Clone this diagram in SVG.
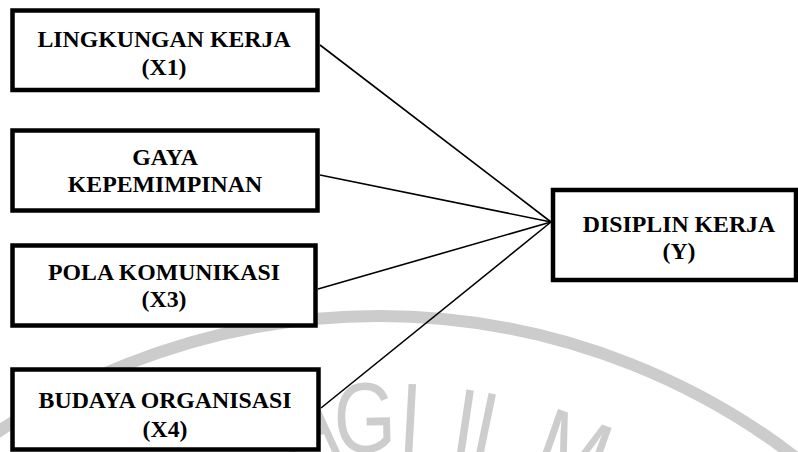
<svg xmlns="http://www.w3.org/2000/svg" width="798" height="452" viewBox="0 0 798 452">
  <style>
    .box { fill: #ffffff; stroke: #000000; stroke-width: 4.5; }
    .lbl { font-family: "Liberation Serif", "Times New Roman", serif; font-weight: bold; font-size: 23.8px; fill: #000000; text-anchor: middle; }
    .conn { stroke: #000000; stroke-width: 1.6; fill: none; }
    .wm { font-family: "Liberation Sans", Arial, sans-serif; font-size: 100px; fill: #cdcdcd; text-anchor: middle; }
  </style>
  <rect x="0" y="0" width="798" height="452" fill="#ffffff"/>
  <g id="watermark">
    <circle cx="379" cy="1000" r="684" fill="none" stroke="#cccccc" stroke-width="12"/>
    <text class="wm" transform="rotate(-6.8 379 1000) translate(379 452) scale(0.8 1)">A</text>
    <text class="wm" transform="rotate(-1.4 379 1000) translate(379 452) scale(0.8 1)">G</text>
    <text class="wm" transform="rotate(3.1 379 1000) translate(379 452) scale(0.8 1)">I</text>
    <text class="wm" transform="rotate(8.5 379 1000) translate(379 452) scale(0.8 1)">I</text>
    <text class="wm" transform="rotate(11.7 379 1000) translate(379 452) scale(0.8 1)">L</text>
    <text class="wm" transform="rotate(19.5 379 1000) translate(379 452) scale(0.85 1)">M</text>
  </g>
  <g id="connectors">
    <line class="conn" x1="320" y1="45" x2="551" y2="222"/>
    <line class="conn" x1="320" y1="175" x2="551" y2="222"/>
    <line class="conn" x1="318" y1="289" x2="551" y2="222"/>
    <line class="conn" x1="321" y1="408" x2="551" y2="222"/>
  </g>
  <g id="node-x1">
    <rect class="box" x="12.5" y="10.5" width="305" height="79.5"/>
    <text class="lbl" x="164" y="47">LINGKUNGAN KERJA</text>
    <text class="lbl" x="164" y="75">(X1)</text>
  </g>
  <g id="node-x2">
    <rect class="box" x="12.5" y="130.5" width="305" height="80"/>
    <text class="lbl" x="165" y="165">GAYA</text>
    <text class="lbl" x="165" y="192">KEPEMIMPINAN</text>
  </g>
  <g id="node-x3">
    <rect class="box" x="12.5" y="245.5" width="303" height="80"/>
    <text class="lbl" x="164" y="280">POLA KOMUNIKASI</text>
    <text class="lbl" x="164" y="307">(X3)</text>
  </g>
  <g id="node-x4">
    <rect class="box" x="12.5" y="369.5" width="306" height="80"/>
    <text class="lbl" x="165" y="408">BUDAYA ORGANISASI</text>
    <text class="lbl" x="165" y="437">(X4)</text>
  </g>
  <g id="node-y">
    <rect class="box" x="553" y="190" width="243" height="90"/>
    <text class="lbl" x="679" y="232">DISIPLIN KERJA</text>
    <text class="lbl" x="679" y="259">(Y)</text>
  </g>
</svg>
